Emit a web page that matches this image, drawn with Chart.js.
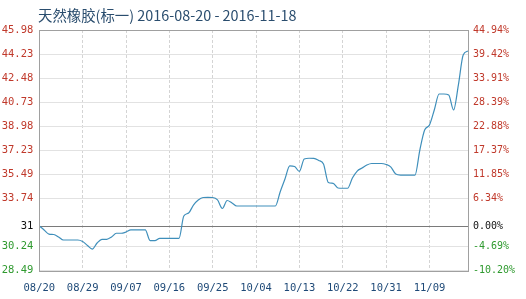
<!DOCTYPE html>
<html>
<head>
<meta charset="utf-8">
<script src="https://cdn.jsdelivr.net/npm/chart.js@4.4.0/dist/chart.umd.min.js"></script>
<style>
html,body{margin:0;padding:0;background:#fff;}
#wrap{width:526px;height:299px;position:relative;}
</style>
</head>
<body>
<div id="wrap"><canvas id="c" width="526" height="299"></canvas></div>
<script>
const titleText = '天然橡胶(标一) 2016-08-20 - 2016-11-18';
const startDate = '2016-08-20';
const dayCount = 90;
const prices = [
  31.74, 31.45, 31.15, 31.12, 30.94, 30.72, 30.72, 30.72, 30.72, 30.61,
  30.32, 30.06, 30.50, 30.77, 30.77, 30.94, 31.21, 31.21, 31.30, 31.45,
  31.45, 31.45, 31.45, 30.68, 30.67, 30.84, 30.84, 30.84, 30.84, 30.84,
  32.46, 32.68, 33.26, 33.63, 33.81, 33.82, 33.81, 33.63, 33.01, 33.59,
  33.41, 33.19, 33.19, 33.19, 33.19, 33.19, 33.19, 33.19, 33.19, 33.19,
  34.21, 35.15, 36.10, 36.06, 35.70, 36.61, 36.66, 36.65, 36.50, 36.24,
  34.90, 34.84, 34.50, 34.48, 34.48, 35.22, 35.73, 35.95, 36.17, 36.28,
  36.28, 36.28, 36.21, 36.02, 35.51, 35.44, 35.44, 35.44, 35.44, 37.26,
  38.71, 39.08, 40.17, 41.33, 41.33, 41.26, 40.17, 41.98, 44.16, 44.45
];
const basePrice = 31.72;
const tickValues = [45.98, 44.23, 42.48, 40.73, 38.98, 37.23, 35.49, 33.74, 31.72, 30.24, 28.49];
const leftTickLabels = ['45.98', '44.23', '42.48', '40.73', '38.98', '37.23', '35.49', '33.74', '31', '30.24', '28.49'];
const rightTickLabels = ['44.94%', '39.42%', '33.91%', '28.39%', '22.88%', '17.37%', '11.85%', '6.34%', '0.00%', '-4.69%', '-10.20%'];
const xLabelEvery = 9;

// category labels (MM/DD) for each day
const dates = [];
{
  const d0 = new Date(startDate + 'T00:00:00Z');
  for (let i = 0; i < dayCount; i++) {
    const d = new Date(d0.getTime() + i * 86400000);
    dates.push(String(d.getUTCMonth() + 1).padStart(2, '0') + '/' + String(d.getUTCDate()).padStart(2, '0'));
  }
}

const UP = '#c0392b', DOWN = '#2f9a2f', BASE = '#111111';
function tickColor(ctx) {
  const v = tickValues[ctx.index];
  if (v === basePrice) return BASE;
  return v > basePrice ? UP : DOWN;
}

const titlePlugin = {
  id: 'titleText',
  beforeDraw(chart) {
    const c = chart.ctx;
    c.save();
    c.font = '14.4px "Noto Sans CJK SC", "Noto Sans", sans-serif';
    c.fillStyle = '#2a4d6e';
    c.textBaseline = 'middle';
    c.textAlign = 'left';
    c.fillText(titleText, 38, 15.5);
    c.restore();
  }
};
const framePlugin = {
  id: 'frame',
  afterDatasetsDraw(chart) {
    const a = chart.chartArea, c = chart.ctx;
    c.save();
    c.strokeStyle = '#a0a0a0';
    c.lineWidth = 1;
    c.strokeRect(Math.round(a.left) + 0.5, Math.round(a.top) + 0.5, Math.round(a.right - a.left), Math.round(a.bottom - a.top));
    c.restore();
  }
};

new Chart(document.getElementById('c'), {
  type: 'line',
  data: {
    labels: dates,
    datasets: [{
      data: prices,
      borderColor: '#3f8fbb',
      borderWidth: 1.2,
      pointRadius: 0,
      fill: false,
      cubicInterpolationMode: 'monotone',
      yAxisID: 'y'
    }]
  },
  options: {
    responsive: false,
    animation: false,
    devicePixelRatio: 1,
    layout: { padding: { top: 30, left: 0, right: 0, bottom: 0 } },
    plugins: { legend: { display: false }, tooltip: { enabled: false }, title: { display: false } },
    scales: {
      x: {
        type: 'category',
        offset: false,
        afterFit(s) { s.height = 28.3; },
        border: { display: false, dash: [3, 2] },
        grid: {
          drawTicks: false,
          color(ctx) { return (ctx.index % xLabelEvery === 0 && ctx.index !== 0) ? '#d4d4d4' : 'rgba(0,0,0,0)'; },
          lineWidth: 1
        },
        ticks: {
          autoSkip: false,
          maxRotation: 0,
          padding: 11,
          color: '#1f4a78',
          font: { family: '"DejaVu Sans Mono", monospace', size: 10.5 },
          callback(v, i) { return i % xLabelEvery === 0 ? dates[i] : ''; }
        }
      },
      y: {
        position: 'left',
        min: 28.49,
        max: 45.98,
        afterFit(s) { s.width = 39.3; },
        afterBuildTicks(s) { s.ticks = tickValues.map(v => ({ value: v })); },
        border: { display: false },
        grid: {
          drawTicks: false,
          color(ctx) { return tickValues[ctx.index] === basePrice ? '#7a7a7a' : '#e2e2e2'; },
          lineWidth: 1
        },
        ticks: {
          padding: 6,
          color: tickColor,
          font: { family: '"DejaVu Sans Mono", monospace', size: 10.5 },
          callback(v, i) { return leftTickLabels[i]; }
        }
      },
      y1: {
        position: 'right',
        min: 28.49,
        max: 45.98,
        afterFit(s) { s.width = 58; },
        afterBuildTicks(s) { s.ticks = tickValues.map(v => ({ value: v })); },
        border: { display: false },
        grid: { display: false, drawTicks: false },
        ticks: {
          padding: 5,
          color: tickColor,
          font: { family: '"DejaVu Sans Mono", monospace', size: 10 },
          callback(v, i) { return rightTickLabels[i]; }
        }
      }
    }
  },
  plugins: [titlePlugin, framePlugin]
});
</script>
</body>
</html>
